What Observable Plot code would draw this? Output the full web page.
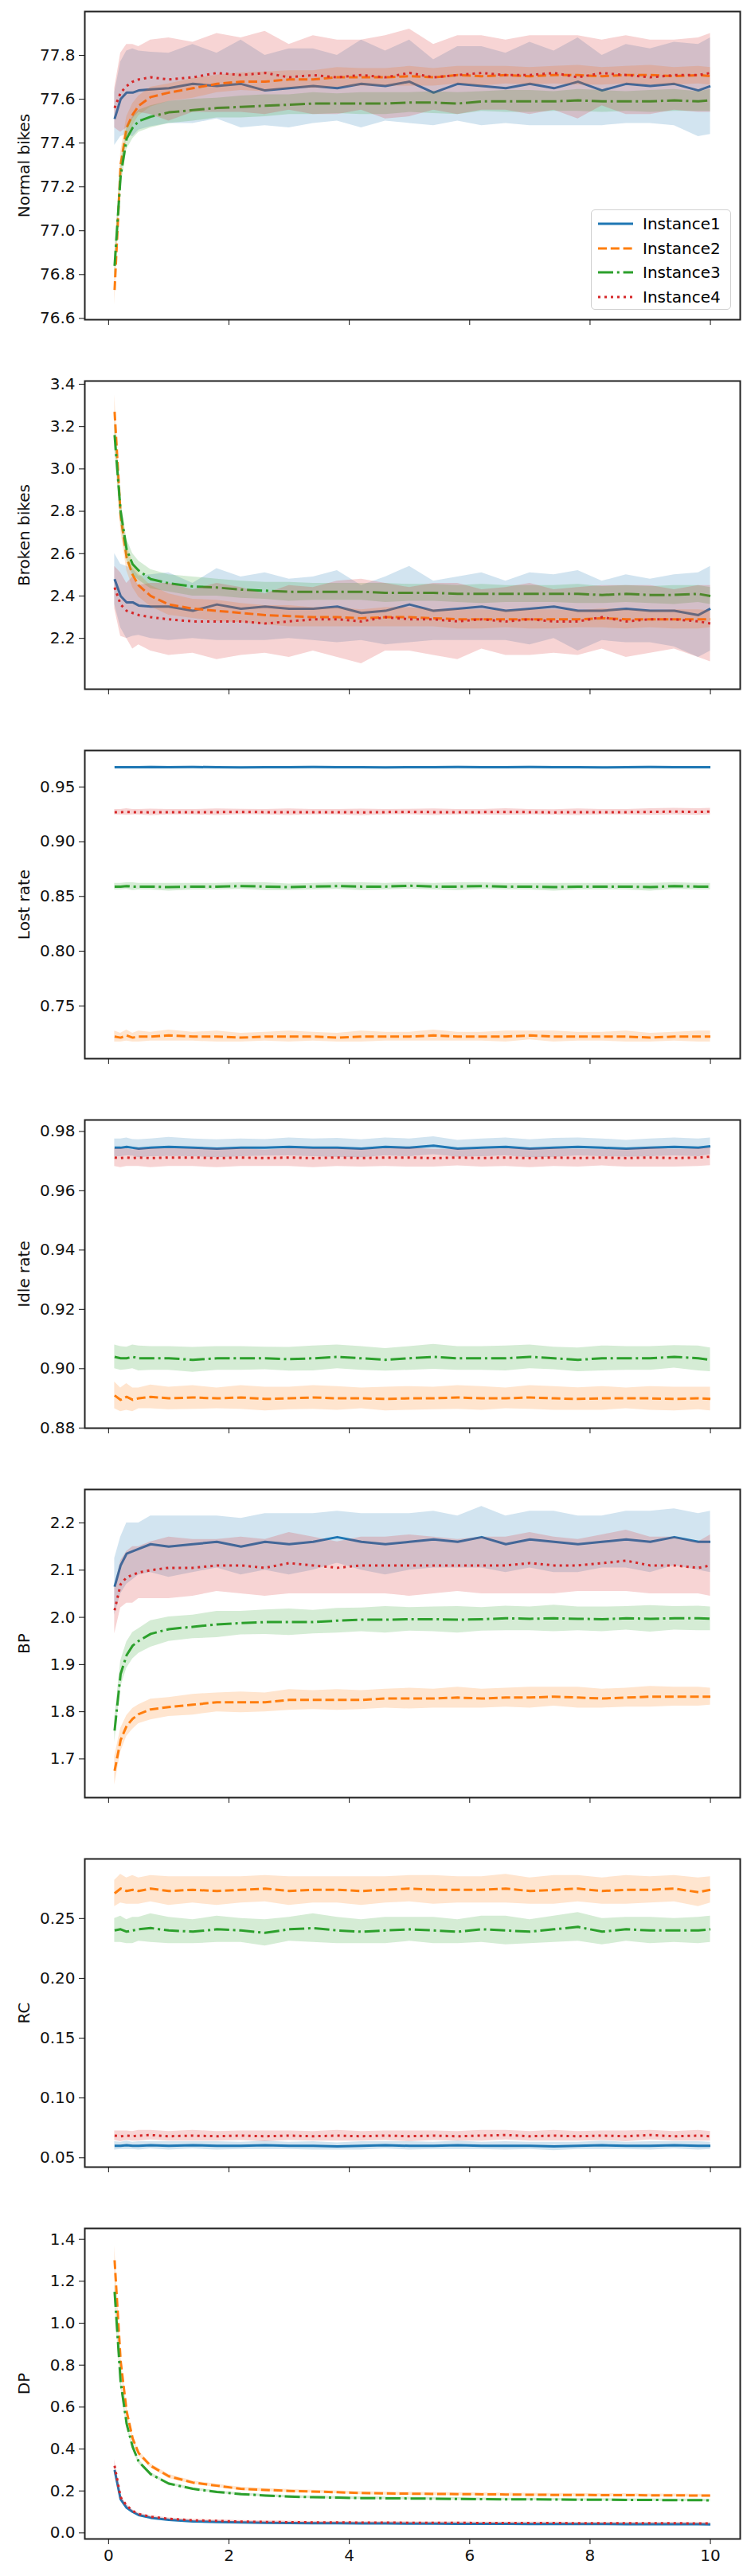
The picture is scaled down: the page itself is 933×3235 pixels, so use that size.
<!DOCTYPE html>
<html>
<head>
<meta charset="utf-8">
<script src="https://cdn.jsdelivr.net/npm/d3@7"></script>
<script src="https://cdn.jsdelivr.net/npm/@observablehq/plot@0.6"></script>
<style>
  body { margin: 0; background: #fff; font-family: "DejaVu Sans", sans-serif; }
  #chart { position: relative; width: 933px; }
  #chart svg { display: block; }
  .legend { position: absolute; left: 742px; top: 263px; width: 176px; height: 126px;
    border: 1px solid #d0d0d0; border-radius: 5px; background: rgba(255,255,255,0.85);
    font: 20px "DejaVu Sans", sans-serif; box-sizing: border-box; }
  .legend div { position: absolute; left: 8px; height: 24px; display: flex; align-items: center; }
  .legend span { margin-left: 12px; }
</style>
</head>
<body>
<div id="chart"></div>
<script>
const instances = ['Instance1', 'Instance2', 'Instance3', 'Instance4'];
const colors = ['#1f77b4', '#ff7f0e', '#2ca02c', '#d62728'];
const dashes = [null, '11,4.8', '19,4.8,3,4.8', '3,5'];

const x = [0.1, 0.2, 0.3, 0.4, 0.5, 0.7, 1.0, 1.4, 1.8, 2.2, 2.6, 3.0, 3.4, 3.8, 4.2, 4.6, 5.0, 5.4, 5.8, 6.2, 6.6, 7.0, 7.4, 7.8, 8.2, 8.6, 9.0, 9.4, 9.8, 10.0];
const xTicks = [0, 2, 4, 6, 8, 10];

// Normal bikes
const normal1 = [77.51, 77.60, 77.63, 77.63, 77.64, 77.645, 77.65, 77.67, 77.66, 77.67, 77.64, 77.65, 77.66, 77.65, 77.67, 77.66, 77.68, 77.63, 77.67, 77.66, 77.65, 77.67, 77.65, 77.68, 77.64, 77.67, 77.66, 77.67, 77.64, 77.66];
const normal1Err = [0.12, 0.17, 0.19, 0.2, 0.18, 0.17, 0.16, 0.18, 0.15, 0.2, 0.16, 0.18, 0.17, 0.15, 0.2, 0.16, 0.19, 0.15, 0.17, 0.18, 0.16, 0.19, 0.17, 0.2, 0.16, 0.18, 0.17, 0.19, 0.21, 0.22];
const normal2 = [76.73, 77.3, 77.47, 77.53, 77.57, 77.61, 77.63, 77.65, 77.67, 77.68, 77.68, 77.69, 77.69, 77.70, 77.70, 77.70, 77.705, 77.70, 77.71, 77.705, 77.71, 77.705, 77.71, 77.71, 77.705, 77.71, 77.71, 77.705, 77.71, 77.705];
const normal2Err = [0.07, 0.06, 0.05, 0.05, 0.045, 0.045, 0.04, 0.045, 0.04, 0.04, 0.045, 0.04, 0.04, 0.045, 0.04, 0.04, 0.045, 0.04, 0.04, 0.045, 0.04, 0.04, 0.04, 0.045, 0.04, 0.04, 0.045, 0.04, 0.04, 0.04];
const normal3 = [76.84, 77.25, 77.42, 77.47, 77.50, 77.52, 77.54, 77.55, 77.56, 77.565, 77.57, 77.575, 77.58, 77.58, 77.58, 77.58, 77.585, 77.585, 77.58, 77.59, 77.59, 77.59, 77.59, 77.595, 77.59, 77.59, 77.59, 77.595, 77.59, 77.595];
const normal3Err = [0.06, 0.06, 0.05, 0.05, 0.05, 0.05, 0.05, 0.05, 0.045, 0.05, 0.05, 0.045, 0.05, 0.045, 0.05, 0.05, 0.045, 0.05, 0.05, 0.045, 0.05, 0.05, 0.045, 0.05, 0.05, 0.045, 0.05, 0.05, 0.045, 0.05];
const normal4 = [77.56, 77.63, 77.66, 77.68, 77.69, 77.70, 77.69, 77.70, 77.72, 77.71, 77.72, 77.70, 77.71, 77.70, 77.71, 77.70, 77.72, 77.70, 77.71, 77.72, 77.71, 77.71, 77.72, 77.70, 77.72, 77.71, 77.70, 77.71, 77.71, 77.72];
const normal4Err = [0.09, 0.18, 0.19, 0.17, 0.15, 0.17, 0.19, 0.16, 0.18, 0.17, 0.19, 0.15, 0.18, 0.17, 0.16, 0.19, 0.2, 0.15, 0.18, 0.17, 0.16, 0.18, 0.17, 0.19, 0.15, 0.18, 0.17, 0.16, 0.17, 0.18];

// Broken bikes
const broken1 = [2.48, 2.40, 2.37, 2.37, 2.355, 2.35, 2.35, 2.33, 2.36, 2.34, 2.35, 2.34, 2.34, 2.35, 2.32, 2.33, 2.36, 2.33, 2.34, 2.35, 2.33, 2.34, 2.35, 2.33, 2.33, 2.34, 2.33, 2.33, 2.31, 2.34];
const broken1Err = [0.12, 0.15, 0.17, 0.16, 0.14, 0.15, 0.16, 0.13, 0.17, 0.15, 0.16, 0.14, 0.15, 0.17, 0.13, 0.16, 0.18, 0.14, 0.15, 0.16, 0.14, 0.17, 0.15, 0.19, 0.14, 0.16, 0.15, 0.17, 0.2, 0.2];
const broken2 = [3.27, 2.78, 2.58, 2.50, 2.45, 2.40, 2.36, 2.34, 2.33, 2.32, 2.31, 2.305, 2.30, 2.30, 2.295, 2.30, 2.30, 2.295, 2.29, 2.29, 2.29, 2.29, 2.29, 2.29, 2.295, 2.29, 2.29, 2.29, 2.29, 2.29];
const broken2Err = [0.08, 0.07, 0.06, 0.06, 0.055, 0.05, 0.05, 0.045, 0.05, 0.045, 0.045, 0.05, 0.045, 0.045, 0.04, 0.045, 0.045, 0.04, 0.045, 0.045, 0.04, 0.045, 0.045, 0.04, 0.045, 0.045, 0.04, 0.045, 0.045, 0.04];
const broken3 = [3.16, 2.80, 2.62, 2.55, 2.52, 2.48, 2.46, 2.445, 2.44, 2.43, 2.425, 2.42, 2.42, 2.42, 2.42, 2.415, 2.415, 2.415, 2.41, 2.41, 2.41, 2.41, 2.41, 2.41, 2.405, 2.41, 2.405, 2.405, 2.41, 2.40];
const broken3Err = [0.07, 0.06, 0.05, 0.05, 0.045, 0.045, 0.04, 0.045, 0.04, 0.04, 0.04, 0.045, 0.04, 0.04, 0.04, 0.045, 0.04, 0.04, 0.04, 0.045, 0.04, 0.04, 0.04, 0.045, 0.04, 0.04, 0.04, 0.045, 0.04, 0.04];
const broken4 = [2.44, 2.36, 2.33, 2.32, 2.31, 2.30, 2.29, 2.28, 2.28, 2.28, 2.27, 2.28, 2.29, 2.29, 2.28, 2.30, 2.29, 2.29, 2.28, 2.29, 2.28, 2.29, 2.28, 2.28, 2.30, 2.28, 2.29, 2.29, 2.28, 2.27];
const broken4Err = [0.1, 0.15, 0.13, 0.17, 0.14, 0.16, 0.17, 0.15, 0.18, 0.16, 0.14, 0.17, 0.15, 0.18, 0.2, 0.16, 0.15, 0.17, 0.18, 0.14, 0.16, 0.17, 0.15, 0.16, 0.15, 0.17, 0.16, 0.14, 0.17, 0.18];

// Lost rate
const lost1 = [0.968, 0.968, 0.968, 0.968, 0.968, 0.9682, 0.968, 0.9682, 0.968, 0.9678, 0.968, 0.968, 0.9682, 0.968, 0.968, 0.9678, 0.968, 0.968, 0.9682, 0.968, 0.968, 0.9682, 0.968, 0.968, 0.9678, 0.968, 0.9682, 0.968, 0.968, 0.968];
const lost1Err = [0.001, 0.001, 0.001, 0.001, 0.001, 0.001, 0.001, 0.001, 0.001, 0.001, 0.001, 0.001, 0.001, 0.001, 0.001, 0.001, 0.001, 0.001, 0.001, 0.001, 0.001, 0.001, 0.001, 0.001, 0.001, 0.001, 0.001, 0.001, 0.001, 0.001];
const lost2 = [0.722, 0.721, 0.723, 0.721, 0.722, 0.722, 0.723, 0.722, 0.722, 0.721, 0.722, 0.722, 0.722, 0.721, 0.722, 0.722, 0.722, 0.723, 0.722, 0.722, 0.722, 0.723, 0.722, 0.722, 0.722, 0.722, 0.721, 0.722, 0.722, 0.722];
const lost2Err = [0.005, 0.004, 0.005, 0.004, 0.005, 0.004, 0.005, 0.004, 0.005, 0.004, 0.004, 0.005, 0.004, 0.004, 0.005, 0.004, 0.004, 0.005, 0.004, 0.004, 0.005, 0.004, 0.005, 0.004, 0.004, 0.005, 0.004, 0.004, 0.005, 0.005];
const lost3 = [0.859, 0.859, 0.8595, 0.859, 0.859, 0.859, 0.8585, 0.859, 0.859, 0.8595, 0.859, 0.8585, 0.859, 0.8595, 0.859, 0.859, 0.8598, 0.859, 0.859, 0.8595, 0.859, 0.859, 0.8585, 0.859, 0.859, 0.859, 0.8585, 0.8595, 0.859, 0.859];
const lost3Err = [0.003, 0.003, 0.003, 0.0035, 0.003, 0.003, 0.0035, 0.003, 0.003, 0.003, 0.0035, 0.003, 0.003, 0.003, 0.0035, 0.003, 0.003, 0.003, 0.0035, 0.003, 0.003, 0.003, 0.0035, 0.003, 0.003, 0.003, 0.0035, 0.003, 0.003, 0.003];
const lost4 = [0.927, 0.927, 0.9272, 0.927, 0.927, 0.9268, 0.927, 0.927, 0.927, 0.9272, 0.927, 0.927, 0.927, 0.927, 0.9268, 0.927, 0.9272, 0.927, 0.927, 0.927, 0.9272, 0.927, 0.9268, 0.927, 0.927, 0.927, 0.9272, 0.9275, 0.9272, 0.9275];
const lost4Err = [0.0025, 0.0025, 0.003, 0.0025, 0.0025, 0.003, 0.0025, 0.0025, 0.003, 0.0025, 0.0025, 0.003, 0.0025, 0.0025, 0.003, 0.0025, 0.0025, 0.003, 0.0025, 0.0025, 0.003, 0.0025, 0.0025, 0.003, 0.0025, 0.0025, 0.003, 0.003, 0.003, 0.003];

// Idle rate
const idle1 = [0.9745, 0.9745, 0.9748, 0.9745, 0.9742, 0.9745, 0.9748, 0.9745, 0.9742, 0.9745, 0.9745, 0.9748, 0.9745, 0.9745, 0.9742, 0.9748, 0.9745, 0.9752, 0.9742, 0.9745, 0.9748, 0.9742, 0.9745, 0.9748, 0.9745, 0.9742, 0.9745, 0.9748, 0.9745, 0.975];
const idle1Err = [0.003, 0.003, 0.003, 0.0028, 0.003, 0.003, 0.0032, 0.003, 0.003, 0.003, 0.0028, 0.003, 0.003, 0.0032, 0.003, 0.003, 0.003, 0.003, 0.0028, 0.003, 0.003, 0.003, 0.0032, 0.003, 0.003, 0.0028, 0.003, 0.003, 0.003, 0.0028];
const idle2 = [0.891, 0.8895, 0.8905, 0.8895, 0.890, 0.8905, 0.890, 0.8903, 0.890, 0.8903, 0.8898, 0.890, 0.8903, 0.890, 0.890, 0.8898, 0.890, 0.890, 0.8903, 0.890, 0.890, 0.8903, 0.890, 0.8898, 0.890, 0.890, 0.890, 0.8898, 0.890, 0.8898];
const idle2Err = [0.0045, 0.004, 0.0045, 0.004, 0.0035, 0.004, 0.0038, 0.004, 0.0035, 0.004, 0.004, 0.0038, 0.004, 0.004, 0.0035, 0.004, 0.004, 0.0038, 0.004, 0.004, 0.0035, 0.004, 0.004, 0.0038, 0.004, 0.0035, 0.004, 0.004, 0.0038, 0.004];
const idle3 = [0.904, 0.9035, 0.9035, 0.904, 0.9035, 0.9035, 0.9035, 0.903, 0.9035, 0.9035, 0.9035, 0.9032, 0.9035, 0.904, 0.9035, 0.903, 0.9035, 0.904, 0.9035, 0.9035, 0.9035, 0.904, 0.9035, 0.903, 0.9035, 0.9035, 0.9035, 0.904, 0.9035, 0.903];
const idle3Err = [0.004, 0.004, 0.0038, 0.004, 0.0042, 0.004, 0.004, 0.0042, 0.004, 0.004, 0.0038, 0.004, 0.0042, 0.004, 0.004, 0.0038, 0.004, 0.0042, 0.004, 0.004, 0.0042, 0.004, 0.0038, 0.004, 0.0042, 0.004, 0.004, 0.0038, 0.0042, 0.004];
const idle4 = [0.9712, 0.971, 0.9712, 0.971, 0.9712, 0.971, 0.9712, 0.9712, 0.971, 0.9712, 0.971, 0.9712, 0.971, 0.9712, 0.971, 0.9712, 0.9712, 0.971, 0.9712, 0.971, 0.9712, 0.971, 0.9712, 0.971, 0.9712, 0.971, 0.9712, 0.971, 0.9712, 0.9715];
const idle4Err = [0.003, 0.0032, 0.003, 0.0028, 0.003, 0.0032, 0.003, 0.003, 0.0032, 0.003, 0.0028, 0.003, 0.0032, 0.003, 0.003, 0.003, 0.0032, 0.003, 0.0028, 0.003, 0.003, 0.0032, 0.003, 0.003, 0.0028, 0.003, 0.0032, 0.003, 0.003, 0.003];

// BP
const bp1 = [2.065, 2.11, 2.135, 2.14, 2.145, 2.155, 2.15, 2.155, 2.16, 2.15, 2.16, 2.155, 2.16, 2.17, 2.16, 2.155, 2.16, 2.165, 2.16, 2.17, 2.155, 2.165, 2.16, 2.155, 2.16, 2.165, 2.16, 2.17, 2.16, 2.16];
const bp1Err = [0.06, 0.06, 0.065, 0.06, 0.055, 0.06, 0.065, 0.06, 0.055, 0.06, 0.06, 0.065, 0.06, 0.055, 0.06, 0.065, 0.06, 0.06, 0.055, 0.065, 0.06, 0.06, 0.065, 0.06, 0.055, 0.06, 0.065, 0.06, 0.06, 0.065];
const bp2 = [1.675, 1.74, 1.77, 1.785, 1.795, 1.805, 1.81, 1.815, 1.82, 1.82, 1.82, 1.825, 1.825, 1.825, 1.825, 1.828, 1.828, 1.828, 1.83, 1.828, 1.83, 1.83, 1.832, 1.83, 1.828, 1.83, 1.832, 1.832, 1.832, 1.832];
const bp2Err = [0.03, 0.025, 0.022, 0.022, 0.02, 0.022, 0.02, 0.022, 0.02, 0.022, 0.02, 0.022, 0.02, 0.022, 0.02, 0.02, 0.022, 0.02, 0.022, 0.02, 0.02, 0.022, 0.02, 0.022, 0.02, 0.02, 0.022, 0.02, 0.02, 0.018];
const bp3 = [1.76, 1.88, 1.92, 1.94, 1.95, 1.965, 1.975, 1.98, 1.985, 1.988, 1.99, 1.99, 1.99, 1.993, 1.995, 1.995, 1.996, 1.996, 1.995, 1.996, 1.998, 1.997, 1.998, 1.997, 1.996, 1.998, 1.997, 1.998, 1.998, 1.997];
const bp3Err = [0.025, 0.028, 0.028, 0.028, 0.026, 0.028, 0.026, 0.025, 0.028, 0.025, 0.026, 0.028, 0.025, 0.026, 0.025, 0.028, 0.025, 0.026, 0.028, 0.025, 0.026, 0.025, 0.028, 0.025, 0.026, 0.025, 0.028, 0.025, 0.026, 0.025];
const bp4 = [2.015, 2.07, 2.085, 2.09, 2.095, 2.10, 2.105, 2.105, 2.11, 2.11, 2.105, 2.115, 2.11, 2.105, 2.11, 2.11, 2.11, 2.11, 2.11, 2.11, 2.11, 2.115, 2.11, 2.11, 2.115, 2.12, 2.11, 2.11, 2.105, 2.11];
const bp4Err = [0.05, 0.05, 0.055, 0.06, 0.055, 0.06, 0.065, 0.06, 0.055, 0.06, 0.06, 0.065, 0.06, 0.055, 0.06, 0.06, 0.065, 0.06, 0.055, 0.06, 0.06, 0.065, 0.06, 0.055, 0.06, 0.065, 0.06, 0.06, 0.055, 0.065];

// RC
const rc1 = [0.060, 0.060, 0.0605, 0.060, 0.060, 0.0605, 0.060, 0.0605, 0.060, 0.060, 0.0605, 0.060, 0.060, 0.0595, 0.060, 0.0605, 0.060, 0.060, 0.0605, 0.060, 0.060, 0.060, 0.0595, 0.060, 0.0605, 0.060, 0.060, 0.0605, 0.060, 0.060];
const rc1Err = [0.0035, 0.003, 0.0035, 0.003, 0.0035, 0.003, 0.0035, 0.003, 0.0035, 0.003, 0.0035, 0.003, 0.0035, 0.003, 0.0035, 0.003, 0.0035, 0.003, 0.0035, 0.003, 0.0035, 0.003, 0.0035, 0.003, 0.0035, 0.003, 0.0035, 0.003, 0.0035, 0.003];
const rc2 = [0.271, 0.275, 0.273, 0.274, 0.273, 0.275, 0.273, 0.274, 0.273, 0.274, 0.275, 0.273, 0.274, 0.274, 0.273, 0.274, 0.275, 0.274, 0.274, 0.274, 0.275, 0.273, 0.274, 0.275, 0.273, 0.274, 0.274, 0.275, 0.272, 0.274];
const rc2Err = [0.011, 0.012, 0.011, 0.012, 0.011, 0.011, 0.012, 0.011, 0.012, 0.011, 0.011, 0.012, 0.011, 0.011, 0.012, 0.011, 0.011, 0.012, 0.011, 0.011, 0.012, 0.011, 0.012, 0.011, 0.011, 0.012, 0.011, 0.011, 0.012, 0.011];
const rc3 = [0.240, 0.241, 0.239, 0.240, 0.241, 0.242, 0.240, 0.239, 0.241, 0.240, 0.238, 0.241, 0.242, 0.240, 0.239, 0.240, 0.241, 0.240, 0.239, 0.241, 0.240, 0.239, 0.241, 0.243, 0.239, 0.241, 0.240, 0.240, 0.240, 0.241];
const rc3Err = [0.01, 0.011, 0.01, 0.011, 0.01, 0.012, 0.011, 0.01, 0.011, 0.01, 0.011, 0.01, 0.012, 0.011, 0.01, 0.011, 0.01, 0.011, 0.01, 0.011, 0.012, 0.01, 0.011, 0.012, 0.011, 0.01, 0.011, 0.01, 0.011, 0.011];
const rc4 = [0.0685, 0.068, 0.0685, 0.068, 0.0685, 0.069, 0.068, 0.0685, 0.068, 0.0685, 0.068, 0.0685, 0.068, 0.0685, 0.068, 0.0685, 0.068, 0.0685, 0.068, 0.0685, 0.069, 0.068, 0.0685, 0.068, 0.0685, 0.068, 0.069, 0.068, 0.0685, 0.068];
const rc4Err = [0.004, 0.0045, 0.004, 0.004, 0.0045, 0.004, 0.004, 0.0045, 0.004, 0.004, 0.0045, 0.004, 0.004, 0.0045, 0.004, 0.004, 0.0045, 0.004, 0.004, 0.0045, 0.004, 0.004, 0.0045, 0.004, 0.004, 0.0045, 0.004, 0.004, 0.0045, 0.004];

// DP
const dp1 = [0.30, 0.16, 0.12, 0.10, 0.085, 0.072, 0.062, 0.055, 0.052, 0.05, 0.048, 0.047, 0.046, 0.046, 0.045, 0.045, 0.044, 0.044, 0.043, 0.043, 0.043, 0.042, 0.042, 0.042, 0.042, 0.041, 0.041, 0.041, 0.041, 0.04];
const dp1Err = [0.02, 0.008, 0.006, 0.005, 0.005, 0.004, 0.004, 0.004, 0.004, 0.004, 0.004, 0.004, 0.004, 0.004, 0.004, 0.004, 0.004, 0.004, 0.004, 0.004, 0.004, 0.004, 0.004, 0.004, 0.004, 0.004, 0.004, 0.004, 0.004, 0.004];
const dp2 = [1.30, 0.82, 0.58, 0.45, 0.38, 0.32, 0.27, 0.24, 0.225, 0.21, 0.205, 0.20, 0.197, 0.194, 0.19, 0.188, 0.187, 0.186, 0.185, 0.184, 0.183, 0.182, 0.181, 0.181, 0.18, 0.18, 0.179, 0.179, 0.178, 0.178];
const dp2Err = [0.07, 0.03, 0.02, 0.015, 0.012, 0.01, 0.01, 0.008, 0.008, 0.008, 0.007, 0.007, 0.007, 0.007, 0.007, 0.007, 0.007, 0.007, 0.007, 0.007, 0.007, 0.007, 0.007, 0.007, 0.007, 0.007, 0.007, 0.007, 0.007, 0.007];
const dp3 = [1.15, 0.72, 0.52, 0.41, 0.34, 0.28, 0.235, 0.21, 0.195, 0.185, 0.178, 0.173, 0.17, 0.168, 0.166, 0.165, 0.164, 0.163, 0.162, 0.161, 0.16, 0.16, 0.159, 0.158, 0.158, 0.157, 0.157, 0.156, 0.156, 0.155];
const dp3Err = [0.05, 0.025, 0.015, 0.012, 0.01, 0.008, 0.007, 0.006, 0.006, 0.006, 0.006, 0.006, 0.006, 0.006, 0.006, 0.006, 0.006, 0.006, 0.006, 0.006, 0.006, 0.006, 0.006, 0.006, 0.006, 0.006, 0.006, 0.006, 0.006, 0.006];
const dp4 = [0.32, 0.17, 0.13, 0.105, 0.09, 0.077, 0.067, 0.06, 0.057, 0.054, 0.052, 0.051, 0.05, 0.05, 0.049, 0.049, 0.048, 0.048, 0.048, 0.047, 0.047, 0.047, 0.047, 0.046, 0.046, 0.046, 0.046, 0.046, 0.045, 0.045];
const dp4Err = [0.03, 0.01, 0.007, 0.006, 0.005, 0.005, 0.005, 0.005, 0.005, 0.005, 0.005, 0.005, 0.005, 0.005, 0.005, 0.005, 0.005, 0.005, 0.005, 0.005, 0.005, 0.005, 0.005, 0.005, 0.005, 0.005, 0.005, 0.005, 0.005, 0.005];

const panels = [
  {label: 'Normal bikes', domain: [76.594, 78.0], ticks: [76.6, 76.8, 77.0, 77.2, 77.4, 77.6, 77.8], fmt: '.1f',
   series: [[normal1, normal1Err], [normal2, normal2Err], [normal3, normal3Err], [normal4, normal4Err]]},
  {label: 'Broken bikes', domain: [1.96, 3.415], ticks: [2.2, 2.4, 2.6, 2.8, 3.0, 3.2, 3.4], fmt: '.1f',
   series: [[broken1, broken1Err], [broken2, broken2Err], [broken3, broken3Err], [broken4, broken4Err]]},
  {label: 'Lost rate', domain: [0.7018, 0.9833], ticks: [0.75, 0.80, 0.85, 0.90, 0.95], fmt: '.2f',
   series: [[lost1, lost1Err], [lost2, lost2Err], [lost3, lost3Err], [lost4, lost4Err]]},
  {label: 'Idle rate', domain: [0.87995, 0.98386], ticks: [0.88, 0.90, 0.92, 0.94, 0.96, 0.98], fmt: '.2f',
   series: [[idle1, idle1Err], [idle2, idle2Err], [idle3, idle3Err], [idle4, idle4Err]]},
  {label: 'BP', domain: [1.618, 2.271], ticks: [1.7, 1.8, 1.9, 2.0, 2.1, 2.2], fmt: '.1f',
   series: [[bp1, bp1Err], [bp2, bp2Err], [bp3, bp3Err], [bp4, bp4Err]]},
  {label: 'RC', domain: [0.0422, 0.2998], ticks: [0.05, 0.10, 0.15, 0.20, 0.25], fmt: '.2f',
   series: [[rc1, rc1Err], [rc2, rc2Err], [rc3, rc3Err], [rc4, rc4Err]]},
  {label: 'DP', domain: [-0.029, 1.452], ticks: [0.0, 0.2, 0.4, 0.6, 0.8, 1.0, 1.2, 1.4], fmt: '.1f',
   series: [[dp1, dp1Err], [dp2, dp2Err], [dp3, dp3Err], [dp4, dp4Err]]}
];

const chart = document.getElementById('chart');

panels.forEach((p, pi) => {
  const last = pi === panels.length - 1;
  const marks = [];
  p.series.forEach(([mean, err], si) => {
    const rows = x.map((xv, i) => ({x: xv, y: mean[i], lo: mean[i] - err[i], hi: mean[i] + err[i]}));
    marks.push(Plot.line(rows, {x: 'x', y: 'y', stroke: colors[si], strokeWidth: 3,
      strokeDasharray: dashes[si], strokeLinecap: 'butt', strokeLinejoin: 'round'}));
    marks.push(Plot.areaY(rows, {x: 'x', y1: 'lo', y2: 'hi', fill: colors[si], fillOpacity: 0.2}));
  });
  marks.push(Plot.frame({stroke: '#222', strokeWidth: 2}));
  marks.push(Plot.axisY({ticks: p.ticks, tickFormat: d3.format(p.fmt), tickSize: 7, tickPadding: 5,
    fontSize: 20, label: p.label, labelAnchor: 'center', labelArrow: 'none', labelOffset: 84}));
  marks.push(Plot.axisX({ticks: xTicks, tickSize: 7, tickPadding: 6, fontSize: 20,
    tickFormat: last ? d3.format('d') : () => '', label: null}));

  const svg = Plot.plot({
    width: 933,
    height: last ? 450 : 464,
    marginTop: 14,
    marginBottom: last ? 46 : 63,
    marginLeft: 106,
    marginRight: 4,
    style: {fontFamily: 'DejaVu Sans', fontSize: '20px', color: '#111', background: '#fff'},
    x: {domain: [-0.395, 10.495]},
    y: {domain: p.domain},
    marks
  });
  chart.appendChild(svg);
});

// legend inside the first panel
const legend = document.createElement('div');
legend.className = 'legend';
instances.forEach((name, i) => {
  const row = document.createElement('div');
  row.style.top = (5 + i * 30.5) + 'px';
  row.innerHTML = `<svg width="44" height="10"><line x1="0" y1="5" x2="44" y2="5" stroke="${colors[i]}" stroke-width="3"${dashes[i] ? ` stroke-dasharray="${dashes[i]}"` : ''}/></svg><span>${name}</span>`;
  legend.appendChild(row);
});
chart.appendChild(legend);
</script>
</body>
</html>
